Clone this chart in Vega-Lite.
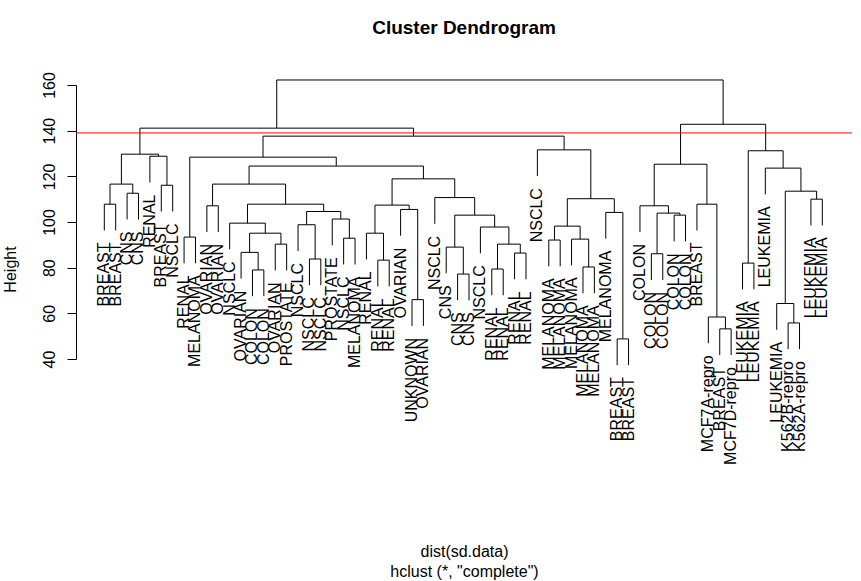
{
"$schema": "https://vega.github.io/schema/vega-lite/v6.json",
"width": 776,
"height": 274,
"autosize": {"type": "none"},
"padding": {"left": 76, "top": 85, "right": 9, "bottom": 222},
"background": "white",
"config": {"view": {"stroke": null}, "font": "Liberation Sans"},
"title": {"text": "Cluster Dendrogram", "fontSize": 19, "fontWeight": "bold", "font": "Liberation Sans", "color": "black", "anchor": "middle", "offset": 34},
"datasets": {
"seg": [
{"a":1,"b":2,"c":107.8,"d":107.8},{"a":1,"b":1,"c":96.3,"d":107.8},{"a":2,"b":2,"c":96.3,"d":107.8},
{"a":3,"b":4,"c":112.6,"d":112.6},{"a":3,"b":3,"c":101.1,"d":112.6},{"a":4,"b":4,"c":101.1,"d":112.6},
{"a":1.5,"b":3.5,"c":116.6,"d":116.6},{"a":1.5,"b":1.5,"c":107.8,"d":116.6},{"a":3.5,"b":3.5,"c":112.6,"d":116.6},
{"a":6,"b":7,"c":116.1,"d":116.1},{"a":6,"b":6,"c":104.6,"d":116.1},{"a":7,"b":7,"c":104.6,"d":116.1},
{"a":5,"b":6.5,"c":128.8,"d":128.8},{"a":5,"b":5,"c":117.3,"d":128.8},{"a":6.5,"b":6.5,"c":116.1,"d":128.8},
{"a":2.5,"b":5.75,"c":129.7,"d":129.7},{"a":2.5,"b":2.5,"c":116.6,"d":129.7},{"a":5.75,"b":5.75,"c":128.8,"d":129.7},
{"a":8,"b":9,"c":93.4,"d":93.4},{"a":8,"b":8,"c":81.9,"d":93.4},{"a":9,"b":9,"c":81.9,"d":93.4},
{"a":10,"b":11,"c":107.1,"d":107.1},{"a":10,"b":10,"c":95.6,"d":107.1},{"a":11,"b":11,"c":95.6,"d":107.1},
{"a":14,"b":15,"c":79,"d":79},{"a":14,"b":14,"c":67.5,"d":79},{"a":15,"b":15,"c":67.5,"d":79},
{"a":13,"b":14.5,"c":86.7,"d":86.7},{"a":13,"b":13,"c":75.2,"d":86.7},{"a":14.5,"b":14.5,"c":79,"d":86.7},
{"a":16,"b":17,"c":90.3,"d":90.3},{"a":16,"b":16,"c":78.8,"d":90.3},{"a":17,"b":17,"c":78.8,"d":90.3},
{"a":13.75,"b":16.5,"c":95.1,"d":95.1},{"a":13.75,"b":13.75,"c":86.7,"d":95.1},{"a":16.5,"b":16.5,"c":90.3,"d":95.1},
{"a":12,"b":15.125,"c":99.5,"d":99.5},{"a":12,"b":12,"c":88,"d":99.5},{"a":15.125,"b":15.125,"c":95.1,"d":99.5},
{"a":19,"b":20,"c":83.8,"d":83.8},{"a":19,"b":19,"c":72.3,"d":83.8},{"a":20,"b":20,"c":72.3,"d":83.8},
{"a":18,"b":19.5,"c":98.8,"d":98.8},{"a":18,"b":18,"c":87.3,"d":98.8},{"a":19.5,"b":19.5,"c":83.8,"d":98.8},
{"a":22,"b":23,"c":92.9,"d":92.9},{"a":22,"b":22,"c":81.4,"d":92.9},{"a":23,"b":23,"c":81.4,"d":92.9},
{"a":21,"b":22.5,"c":101.3,"d":101.3},{"a":21,"b":21,"c":89.8,"d":101.3},{"a":22.5,"b":22.5,"c":92.9,"d":101.3},
{"a":18.75,"b":21.75,"c":104.6,"d":104.6},{"a":18.75,"b":18.75,"c":98.8,"d":104.6},{"a":21.75,"b":21.75,"c":101.3,"d":104.6},
{"a":13.5625,"b":20.25,"c":107.8,"d":107.8},{"a":13.5625,"b":13.5625,"c":99.5,"d":107.8},{"a":20.25,"b":20.25,"c":104.6,"d":107.8},
{"a":10.5,"b":16.90625,"c":116.6,"d":116.6},{"a":10.5,"b":10.5,"c":107.1,"d":116.6},{"a":16.90625,"b":16.90625,"c":107.8,"d":116.6},
{"a":25,"b":26,"c":83.3,"d":83.3},{"a":25,"b":25,"c":71.8,"d":83.3},{"a":26,"b":26,"c":71.8,"d":83.3},
{"a":24,"b":25.5,"c":95.1,"d":95.1},{"a":24,"b":24,"c":83.6,"d":95.1},{"a":25.5,"b":25.5,"c":83.3,"d":95.1},
{"a":28,"b":29,"c":66,"d":66},{"a":28,"b":28,"c":54.5,"d":66},{"a":29,"b":29,"c":54.5,"d":66},
{"a":27,"b":28.5,"c":105.5,"d":105.5},{"a":27,"b":27,"c":94,"d":105.5},{"a":28.5,"b":28.5,"c":66,"d":105.5},
{"a":24.75,"b":27.75,"c":107.4,"d":107.4},{"a":24.75,"b":24.75,"c":95.1,"d":107.4},{"a":27.75,"b":27.75,"c":105.5,"d":107.4},
{"a":32,"b":33,"c":77.2,"d":77.2},{"a":32,"b":32,"c":65.7,"d":77.2},{"a":33,"b":33,"c":65.7,"d":77.2},
{"a":31,"b":32.5,"c":89,"d":89},{"a":31,"b":31,"c":77.5,"d":89},{"a":32.5,"b":32.5,"c":77.2,"d":89},
{"a":35,"b":36,"c":79.4,"d":79.4},{"a":35,"b":35,"c":67.9,"d":79.4},{"a":36,"b":36,"c":67.9,"d":79.4},
{"a":37,"b":38,"c":86.4,"d":86.4},{"a":37,"b":37,"c":74.9,"d":86.4},{"a":38,"b":38,"c":74.9,"d":86.4},
{"a":35.5,"b":37.5,"c":90.3,"d":90.3},{"a":35.5,"b":35.5,"c":79.4,"d":90.3},{"a":37.5,"b":37.5,"c":86.4,"d":90.3},
{"a":34,"b":36.5,"c":97.8,"d":97.8},{"a":34,"b":34,"c":86.3,"d":97.8},{"a":36.5,"b":36.5,"c":90.3,"d":97.8},
{"a":31.75,"b":35.25,"c":103,"d":103},{"a":31.75,"b":31.75,"c":89,"d":103},{"a":35.25,"b":35.25,"c":97.8,"d":103},
{"a":30,"b":33.5,"c":110.7,"d":110.7},{"a":30,"b":30,"c":99.2,"d":110.7},{"a":33.5,"b":33.5,"c":103,"d":110.7},
{"a":26.25,"b":31.75,"c":118.9,"d":118.9},{"a":26.25,"b":26.25,"c":107.4,"d":118.9},{"a":31.75,"b":31.75,"c":110.7,"d":118.9},
{"a":13.703,"b":29,"c":124.5,"d":124.5},{"a":13.703,"b":13.703,"c":116.6,"d":124.5},{"a":29,"b":29,"c":118.9,"d":124.5},
{"a":8.5,"b":21.352,"c":128.4,"d":128.4},{"a":8.5,"b":8.5,"c":93.4,"d":128.4},{"a":21.352,"b":21.352,"c":124.5,"d":128.4},
{"a":40,"b":41,"c":92.1,"d":92.1},{"a":40,"b":40,"c":80.6,"d":92.1},{"a":41,"b":41,"c":80.6,"d":92.1},
{"a":43,"b":44,"c":80.3,"d":80.3},{"a":43,"b":43,"c":68.8,"d":80.3},{"a":44,"b":44,"c":68.8,"d":80.3},
{"a":42,"b":43.5,"c":92.5,"d":92.5},{"a":42,"b":42,"c":81,"d":92.5},{"a":43.5,"b":43.5,"c":80.3,"d":92.5},
{"a":40.5,"b":42.75,"c":98.2,"d":98.2},{"a":40.5,"b":40.5,"c":92.1,"d":98.2},{"a":42.75,"b":42.75,"c":92.5,"d":98.2},
{"a":46,"b":47,"c":48.8,"d":48.8},{"a":46,"b":46,"c":37.3,"d":48.8},{"a":47,"b":47,"c":37.3,"d":48.8},
{"a":45,"b":46.5,"c":104.2,"d":104.2},{"a":45,"b":45,"c":92.7,"d":104.2},{"a":46.5,"b":46.5,"c":48.8,"d":104.2},
{"a":41.625,"b":45.75,"c":110.2,"d":110.2},{"a":41.625,"b":41.625,"c":98.2,"d":110.2},{"a":45.75,"b":45.75,"c":104.2,"d":110.2},
{"a":39,"b":43.6875,"c":131.6,"d":131.6},{"a":39,"b":39,"c":120.1,"d":131.6},{"a":43.6875,"b":43.6875,"c":110.2,"d":131.6},
{"a":14.926,"b":41.344,"c":137.6,"d":137.6},{"a":14.926,"b":14.926,"c":128.4,"d":137.6},{"a":41.344,"b":41.344,"c":131.6,"d":137.6},
{"a":4.125,"b":28.135,"c":141.1,"d":141.1},{"a":4.125,"b":4.125,"c":129.7,"d":141.1},{"a":28.135,"b":28.135,"c":137.6,"d":141.1},
{"a":49,"b":50,"c":86.1,"d":86.1},{"a":49,"b":49,"c":74.6,"d":86.1},{"a":50,"b":50,"c":74.6,"d":86.1},
{"a":51,"b":52,"c":103,"d":103},{"a":51,"b":51,"c":91.5,"d":103},{"a":52,"b":52,"c":91.5,"d":103},
{"a":49.5,"b":51.5,"c":103.9,"d":103.9},{"a":49.5,"b":49.5,"c":86.1,"d":103.9},{"a":51.5,"b":51.5,"c":103,"d":103.9},
{"a":48,"b":50.5,"c":107.1,"d":107.1},{"a":48,"b":48,"c":95.6,"d":107.1},{"a":50.5,"b":50.5,"c":103.9,"d":107.1},
{"a":55,"b":56,"c":53.2,"d":53.2},{"a":55,"b":55,"c":41.7,"d":53.2},{"a":56,"b":56,"c":41.7,"d":53.2},
{"a":54,"b":55.5,"c":58.4,"d":58.4},{"a":54,"b":54,"c":46.9,"d":58.4},{"a":55.5,"b":55.5,"c":53.2,"d":58.4},
{"a":53,"b":54.75,"c":107.8,"d":107.8},{"a":53,"b":53,"c":96.3,"d":107.8},{"a":54.75,"b":54.75,"c":58.4,"d":107.8},
{"a":49.25,"b":53.875,"c":125.3,"d":125.3},{"a":49.25,"b":49.25,"c":107.1,"d":125.3},{"a":53.875,"b":53.875,"c":107.8,"d":125.3},
{"a":57,"b":58,"c":82,"d":82},{"a":57,"b":57,"c":70.5,"d":82},{"a":58,"b":58,"c":70.5,"d":82},
{"a":61,"b":62,"c":55.8,"d":55.8},{"a":61,"b":61,"c":44.3,"d":55.8},{"a":62,"b":62,"c":44.3,"d":55.8},
{"a":60,"b":61.5,"c":64.3,"d":64.3},{"a":60,"b":60,"c":52.8,"d":64.3},{"a":61.5,"b":61.5,"c":55.8,"d":64.3},
{"a":63,"b":64,"c":110,"d":110},{"a":63,"b":63,"c":98.5,"d":110},{"a":64,"b":64,"c":98.5,"d":110},
{"a":60.75,"b":63.5,"c":113.5,"d":113.5},{"a":60.75,"b":60.75,"c":64.3,"d":113.5},{"a":63.5,"b":63.5,"c":110,"d":113.5},
{"a":59,"b":62.125,"c":123.6,"d":123.6},{"a":59,"b":59,"c":112.1,"d":123.6},{"a":62.125,"b":62.125,"c":113.5,"d":123.6},
{"a":57.5,"b":60.5625,"c":131.2,"d":131.2},{"a":57.5,"b":57.5,"c":82,"d":131.2},{"a":60.5625,"b":60.5625,"c":123.6,"d":131.2},
{"a":51.5625,"b":59.031,"c":142.8,"d":142.8},{"a":51.5625,"b":51.5625,"c":125.3,"d":142.8},{"a":59.031,"b":59.031,"c":131.2,"d":142.8},
{"a":16.13,"b":55.297,"c":162.2,"d":162.2},{"a":16.13,"b":16.13,"c":141.1,"d":162.2},{"a":55.297,"b":55.297,"c":142.8,"d":162.2}
],
"leaves": [
{"i":1,"label":"BREAST","h":96.3},{"i":2,"label":"BREAST","h":96.3},{"i":3,"label":"CNS","h":101.1},{"i":4,"label":"CNS","h":101.1},
{"i":5,"label":"RENAL","h":117.3},{"i":6,"label":"BREAST","h":104.6},{"i":7,"label":"NSCLC","h":104.6},{"i":8,"label":"RENAL","h":81.9},
{"i":9,"label":"MELANOMA","h":81.9},{"i":10,"label":"OVARIAN","h":95.6},{"i":11,"label":"OVARIAN","h":95.6},{"i":12,"label":"NSCLC","h":88},
{"i":13,"label":"OVARIAN","h":75.2},{"i":14,"label":"COLON","h":67.5},{"i":15,"label":"COLON","h":67.5},{"i":16,"label":"OVARIAN","h":78.8},
{"i":17,"label":"PROSTATE","h":78.8},{"i":18,"label":"NSCLC","h":87.3},{"i":19,"label":"NSCLC","h":72.3},{"i":20,"label":"NSCLC","h":72.3},
{"i":21,"label":"PROSTATE","h":89.8},{"i":22,"label":"NSCLC","h":81.4},{"i":23,"label":"MELANOMA","h":81.4},{"i":24,"label":"RENAL","h":83.6},
{"i":25,"label":"RENAL","h":71.8},{"i":26,"label":"RENAL","h":71.8},{"i":27,"label":"OVARIAN","h":94},{"i":28,"label":"UNKNOWN","h":54.5},
{"i":29,"label":"OVARIAN","h":54.5},{"i":30,"label":"NSCLC","h":99.2},{"i":31,"label":"CNS","h":77.5},{"i":32,"label":"CNS","h":65.7},
{"i":33,"label":"CNS","h":65.7},{"i":34,"label":"NSCLC","h":86.3},{"i":35,"label":"RENAL","h":67.9},{"i":36,"label":"RENAL","h":67.9},
{"i":37,"label":"RENAL","h":74.9},{"i":38,"label":"RENAL","h":74.9},{"i":39,"label":"NSCLC","h":120.1},{"i":40,"label":"MELANOMA","h":80.6},
{"i":41,"label":"MELANOMA","h":80.6},{"i":42,"label":"MELANOMA","h":81},{"i":43,"label":"MELANOMA","h":68.8},{"i":44,"label":"MELANOMA","h":68.8},
{"i":45,"label":"MELANOMA","h":92.7},{"i":46,"label":"BREAST","h":37.3},{"i":47,"label":"BREAST","h":37.3},{"i":48,"label":"COLON","h":95.6},
{"i":49,"label":"COLON","h":74.6},{"i":50,"label":"COLON","h":74.6},{"i":51,"label":"COLON","h":91.5},{"i":52,"label":"COLON","h":91.5},
{"i":53,"label":"BREAST","h":96.3},{"i":54,"label":"MCF7A-repro","h":46.9},{"i":55,"label":"BREAST","h":41.7},{"i":56,"label":"MCF7D-repro","h":41.7},
{"i":57,"label":"LEUKEMIA","h":70.5},{"i":58,"label":"LEUKEMIA","h":70.5},{"i":59,"label":"LEUKEMIA","h":112.1},{"i":60,"label":"LEUKEMIA","h":52.8},
{"i":61,"label":"K562B-repro","h":44.3},{"i":62,"label":"K562A-repro","h":44.3},{"i":63,"label":"LEUKEMIA","h":98.5},{"i":64,"label":"LEUKEMIA","h":98.5}
]
},
"layer": [
{
"data": {"name": "seg"},
"mark": {"type": "rule", "color": "black", "strokeWidth": 1},
"encoding": {
"x": {"field": "a", "type": "quantitative", "scale": {"domain": [-1.483, 66.605], "nice": false, "zero": false},
"axis": {"orient": "bottom", "labels": false, "ticks": false, "domain": false, "grid": false,
"title": ["dist(sd.data)", "hclust (*, \"complete\")"], "titleFont": "Liberation Sans", "titleFontSize": 16, "titleFontWeight": "normal", "titleColor": "black", "titlePadding": 184, "titleLineHeight": 20}},
"x2": {"field": "b"},
"y": {"field": "c", "type": "quantitative", "scale": {"domain": [40, 160], "nice": false, "zero": false},
"axis": {"values": [40, 60, 80, 100, 120, 140, 160], "grid": false, "labelAngle": 270, "labelAlign": "center", "labelBaseline": "bottom", "labelFont": "Liberation Sans", "labelFontSize": 16, "labelColor": "black", "labelPadding": 10, "labelFlush": false, "labelOverlap": false, "tickSize": 9, "tickColor": "black", "domainColor": "black",
"title": "Height", "titleFont": "Liberation Sans", "titleFontSize": 16, "titleFontWeight": "normal", "titleColor": "black", "titleAngle": 270, "titleX": -66, "titleY": 184, "titleAlign": "center", "titleBaseline": "middle"}},
"y2": {"field": "d"}
}
},
{
"data": {"name": "leaves"},
"mark": {"type": "text", "angle": 270, "align": "right", "baseline": "middle", "dx": -12, "fontSize": 16, "font": "Liberation Sans", "color": "black"},
"encoding": {
"x": {"field": "i", "type": "quantitative"},
"y": {"field": "h", "type": "quantitative"},
"text": {"field": "label"}
}
},
{
"data": {"values": [{"cut": 139}]},
"mark": {"type": "rule", "color": "red", "strokeWidth": 1},
"encoding": {"y": {"field": "cut", "type": "quantitative"}}
}
]
}
